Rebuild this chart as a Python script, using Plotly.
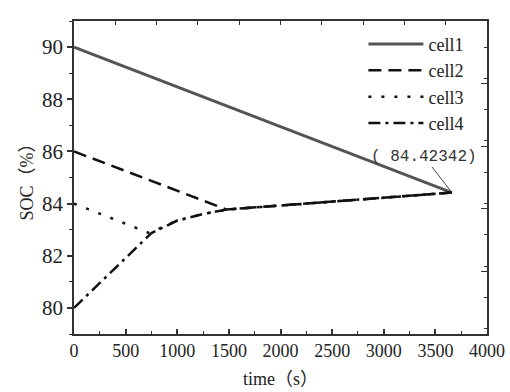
import plotly.graph_objects as go

# SOC trajectories of four cells during balancing (time in s, SOC in %)
cell1_t = [0, 3660]
cell1_soc = [90.0, 84.42342]

cell2_t = [0, 1480, 3660]
cell2_soc = [86.0, 83.77, 84.42342]

cell3_t = [0, 730, 1000, 1250, 1480, 3660]
cell3_soc = [84.0, 82.87, 83.35, 83.60, 83.77, 84.42342]

cell4_t = [0, 750, 1000, 1250, 1480, 3660]
cell4_soc = [80.0, 82.87, 83.35, 83.60, 83.77, 84.42342]

end_t = 3660
end_soc = 84.42342

serif = "Liberation Serif, Times New Roman, Noto Sans CJK SC, serif"

fig = go.Figure()
fig.add_trace(go.Scatter(x=cell1_t, y=cell1_soc, mode="lines", name="cell1",
                         line=dict(color="#555555", width=3)))
fig.add_trace(go.Scatter(x=cell2_t, y=cell2_soc, mode="lines", name="cell2",
                         line=dict(color="#111111", width=2.5, dash="13px,7px")))
fig.add_trace(go.Scatter(x=cell3_t, y=cell3_soc, mode="lines", name="cell3",
                         line=dict(color="#111111", width=2.5, dash="3px,10px")))
fig.add_trace(go.Scatter(x=cell4_t, y=cell4_soc, mode="lines", name="cell4",
                         line=dict(color="#111111", width=2.5, dash="12px,5px,3px,5px")))

# invisible trace carrying the top/right frame axes
fig.add_trace(go.Scatter(x=[0], y=[79], xaxis="x2", yaxis="y2", mode="markers",
                         marker=dict(opacity=0), showlegend=False, hoverinfo="skip"))

fig.add_annotation(x=end_t, y=end_soc, text="( %.5f)" % end_soc,
                   showarrow=True, arrowhead=0, arrowwidth=1, arrowcolor="#444444",
                   ax=-28, ay=-36, standoff=3,
                   font=dict(family="Liberation Mono, monospace", size=16, color="#333333"))

axis_color = "#333333"

fig.update_layout(
    width=510, height=392,
    margin=dict(l=74, r=23, t=21, b=58, autoexpand=False),
    paper_bgcolor="white", plot_bgcolor="white",
    font=dict(family=serif, color="#222222"),
    showlegend=True,
    legend=dict(x=0.955, y=0.985, xanchor="right", yanchor="top",
                bgcolor="rgba(0,0,0,0)", borderwidth=0, itemwidth=55,
                font=dict(family=serif, size=18, color="#222222"),
                tracegroupgap=0),
    xaxis=dict(range=[0, 4000], tick0=0, dtick=500, ticks="inside", ticklen=5,
               tickwidth=1.5, tickcolor=axis_color, automargin=False,
               minor=dict(dtick=250, ticks="inside", ticklen=3, tickwidth=1.2,
                          tickcolor=axis_color),
               showline=True, linecolor=axis_color, linewidth=1.5,
               showgrid=False, zeroline=False,
               tickfont=dict(family=serif, size=18),
               title=dict(text="time（s）", font=dict(family=serif, size=18), standoff=12)),
    yaxis=dict(range=[79, 91], tick0=0, dtick=2, ticks="outside", ticklen=5,
               tickwidth=1.5, tickcolor=axis_color, automargin=False,
               minor=dict(dtick=1, ticks="outside", ticklen=3, tickwidth=1.2,
                          tickcolor=axis_color),
               showline=True, linecolor=axis_color, linewidth=1.5,
               showgrid=False, zeroline=False,
               tickfont=dict(family=serif, size=21),
               title=dict(text="SOC（%）", font=dict(family=serif, size=18), standoff=4)),
    xaxis2=dict(overlaying="x", side="top", range=[0, 4000], tick0=0, dtick=400,
                ticks="inside", ticklen=4, tickwidth=1.2, tickcolor=axis_color,
                showticklabels=False, showline=True, linecolor=axis_color,
                linewidth=1.5, showgrid=False, zeroline=False, automargin=False),
    yaxis2=dict(overlaying="y", side="right", range=[79, 91], tick0=79, dtick=2.4,
                ticks="inside", ticklen=6, tickwidth=1.2, tickcolor=axis_color,
                minor=dict(dtick=1.2, ticks="inside", ticklen=3, tickwidth=1.2,
                           tickcolor=axis_color),
                showticklabels=False, showline=True, linecolor=axis_color,
                linewidth=1.5, showgrid=False, zeroline=False, automargin=False),
)

fig.write_html("out.html")
